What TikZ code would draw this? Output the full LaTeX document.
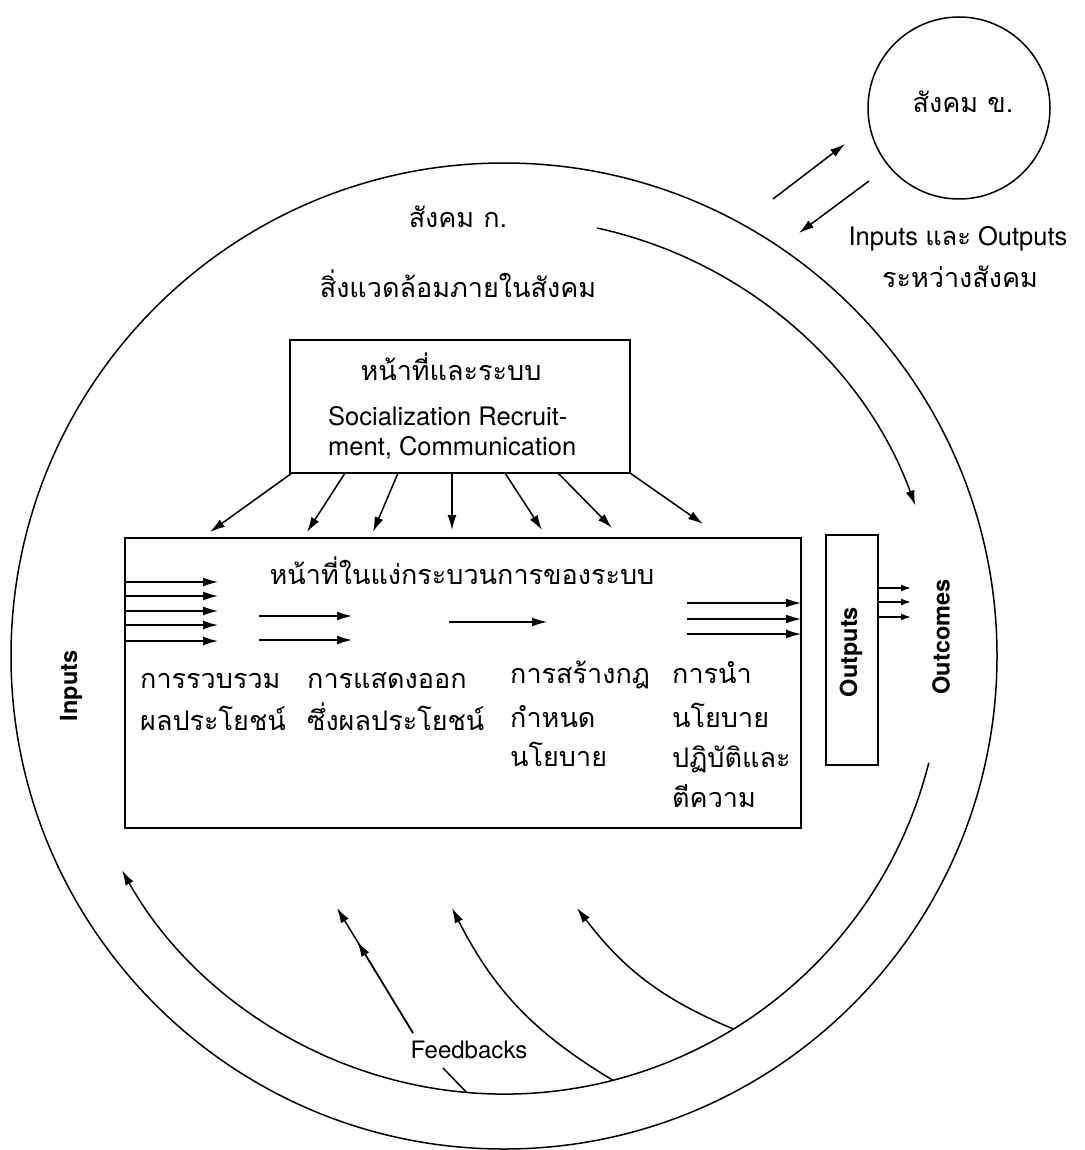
\documentclass[tikz,border=0pt]{standalone}
\usepackage{fontspec}
\setmainfont{TeX Gyre Heros}
\newfontfamily\thai[Script=Thai]{Loma}
\usetikzlibrary{arrows.meta,calc}
\tikzset{
  ln/.style={line width=1.5pt},
  arr/.style={ln,-{Latex[length=15pt,width=9pt]}},
  sarr/.style={ln,-{Latex[length=10pt,width=7pt]}},
  box/.style={draw,line width=1.7pt,inner sep=0pt},
  th/.style={font=\thai\fontsize{27}{31}\selectfont,inner sep=0pt},
  en/.style={font=\fontsize{25.5}{29}\selectfont,inner sep=0pt},
  fbt/.style={font=\fontsize{24}{28}\selectfont,inner sep=0pt},
  vt/.style={font=\bfseries\fontsize{23.5}{28}\selectfont,inner sep=0pt,rotate=90},
}
\begin{document}
\begin{tikzpicture}[x=1pt,y=1pt]
\useasboundingbox[fill=white] (0,0) rectangle (1084,-1150);
% circles
\node[circle,draw,line width=1.5pt,minimum size=986pt,inner sep=0pt] (socA) at (504,-656) {};
\node[circle,draw,line width=1.5pt,minimum size=182pt,inner sep=0pt] (socB) at (959,-108) {};
\node[th,anchor=base] (socBt) at (963,-113) {สังคม ข.};
\coordinate (C) at (504,-656);
% between societies
\coordinate (x1s) at (773,-199); \coordinate (x1e) at (845,-144);
\coordinate (x2s) at (869,-181); \coordinate (x2e) at (799,-233);
\draw[arr] (x1s) -- (x1e);
\draw[arr] (x2s) -- (x2e);
\node[en,anchor=base] (io) at (958,-245) {Inputs {\thai และ} Outputs};
\node[th,anchor=base] (rw) at (960,-287) {ระหว่างสังคม};
% labels society A
\node[th,anchor=base] (socAt) at (458,-228) {สังคม ก.};
\node[th,anchor=base] (env) at (458,-297) {สิ่งแวดล้อมภายในสังคม};
% top box
\node[box,minimum width=340pt,minimum height=133pt] (topbox) at (460,-406.5) {};
\node[th,anchor=base] (tb1) at (451,-380) {หน้าที่และระบบ};
\node[en,anchor=base west] (tb2) at (328,-425) {Socialization Recruit-};
\node[en,anchor=base west] (tb3) at (328,-455) {ment, Communication};
% arrows from top box
\foreach \i/\sx/\ex/\ey in {1/292/210/532,2/345/307/532,3/398/373/532,4/452/452/530,5/505/542/530,6/558/612/528,7/630/703/524}{
  \coordinate (ts\i) at (\sx,-473);
  \coordinate (te\i) at (\ex,-\ey);
  \draw[arr] (ts\i) -- (te\i);
}
% main box
\node[box,minimum width=676pt,minimum height=290pt] (mainbox) at (463,-683) {};
\node[th,anchor=base] (mt) at (462,-584) {หน้าที่ในแง่กระบวนการของระบบ};
\foreach \i/\y in {1/582,2/596,3/611,4/625,5/641}{
  \coordinate (ia\i) at (125,-\y); \coordinate (ib\i) at (218,-\y);
  \draw[arr] (ia\i) -- (ib\i);
}
\foreach \i/\y in {1/616,2/640}{
  \coordinate (ja\i) at (259,-\y); \coordinate (jb\i) at (352,-\y);
  \draw[arr] (ja\i) -- (jb\i);
}
\coordinate (ka) at (449,-622); \coordinate (kb) at (547,-622);
\draw[arr] (ka) -- (kb);
\foreach \i/\y in {1/603,2/619,3/634}{
  \coordinate (la\i) at (687,-\y); \coordinate (lb\i) at (801,-\y);
  \draw[arr] (la\i) -- (lb\i);
}
\node[th,anchor=base west] (c1a) at (140,-688) {การรวบรวม};
\node[th,anchor=base west] (c1b) at (140,-730) {ผลประโยชน์};
\node[th,anchor=base west] (c2a) at (307,-688) {การแสดงออก};
\node[th,anchor=base west] (c2b) at (307,-730) {ซึ่งผลประโยชน์};
\node[th,anchor=base west] (c3a) at (510,-683) {การสร้างกฎ};
\node[th,anchor=base west] (c3b) at (510,-727) {กำหนด};
\node[th,anchor=base west] (c3c) at (510,-766) {นโยบาย};
\node[th,anchor=base west] (c4a) at (672,-683) {การนำ};
\node[th,anchor=base west] (c4b) at (672,-727) {นโยบาย};
\node[th,anchor=base west] (c4c) at (672,-767) {ปฏิบัติและ};
\node[th,anchor=base west] (c4d) at (672,-807) {ตีความ};
% outputs box
\node[box,minimum width=52pt,minimum height=230pt] (outbox) at (852,-650) {};
\node[vt] (outt) at (851,-652) {Outputs};
\foreach \i/\y in {1/588,2/602,3/617}{
  \coordinate (oa\i) at (878,-\y); \coordinate (ob\i) at (911,-\y);
  \draw[sarr] (oa\i) -- (ob\i);
}
\node[vt] (outc) at (941,-637) {Outcomes};
\node[vt] (inp) at (71,-686) {Inputs};
% inner arcs
\coordinate (u1) at ($(C)+(77.7:438)$);
\draw[arr] (u1) arc[start angle=77.7,end angle=20.1,radius=438];
\coordinate (l1) at ($(C)+(-14.1:438)$);
\draw[arr] (l1) arc[start angle=-14.1,end angle=-150.7,radius=438];
% feedbacks
\coordinate (b1) at ($(C)+(-94.9:438)$);
\coordinate (b2) at ($(C)+(-75.6:438)$);
\coordinate (b3) at ($(C)+(-58.4:438)$);
\node[fbt,anchor=base] (fb) at (469,-1058) {Feedbacks};
\coordinate (fbbot) at (443,-1068);
\coordinate (fbtop) at (413,-1033);
\coordinate (fbtip) at (337,-908);
\draw[ln] (b1) -- (fbbot);
\draw[arr] (fbtop) -- (fbtip);
\draw[arr] (fbtop) -- ($(fbtop)!0.73!(fbtip)$);
\coordinate (t2) at (452,-908);
\coordinate (t3) at (577,-908);
\draw[arr] (b2) to[bend left=16] (t2);
\draw[arr] (b3) to[bend left=15] (t3);
\end{tikzpicture}
\end{document}
